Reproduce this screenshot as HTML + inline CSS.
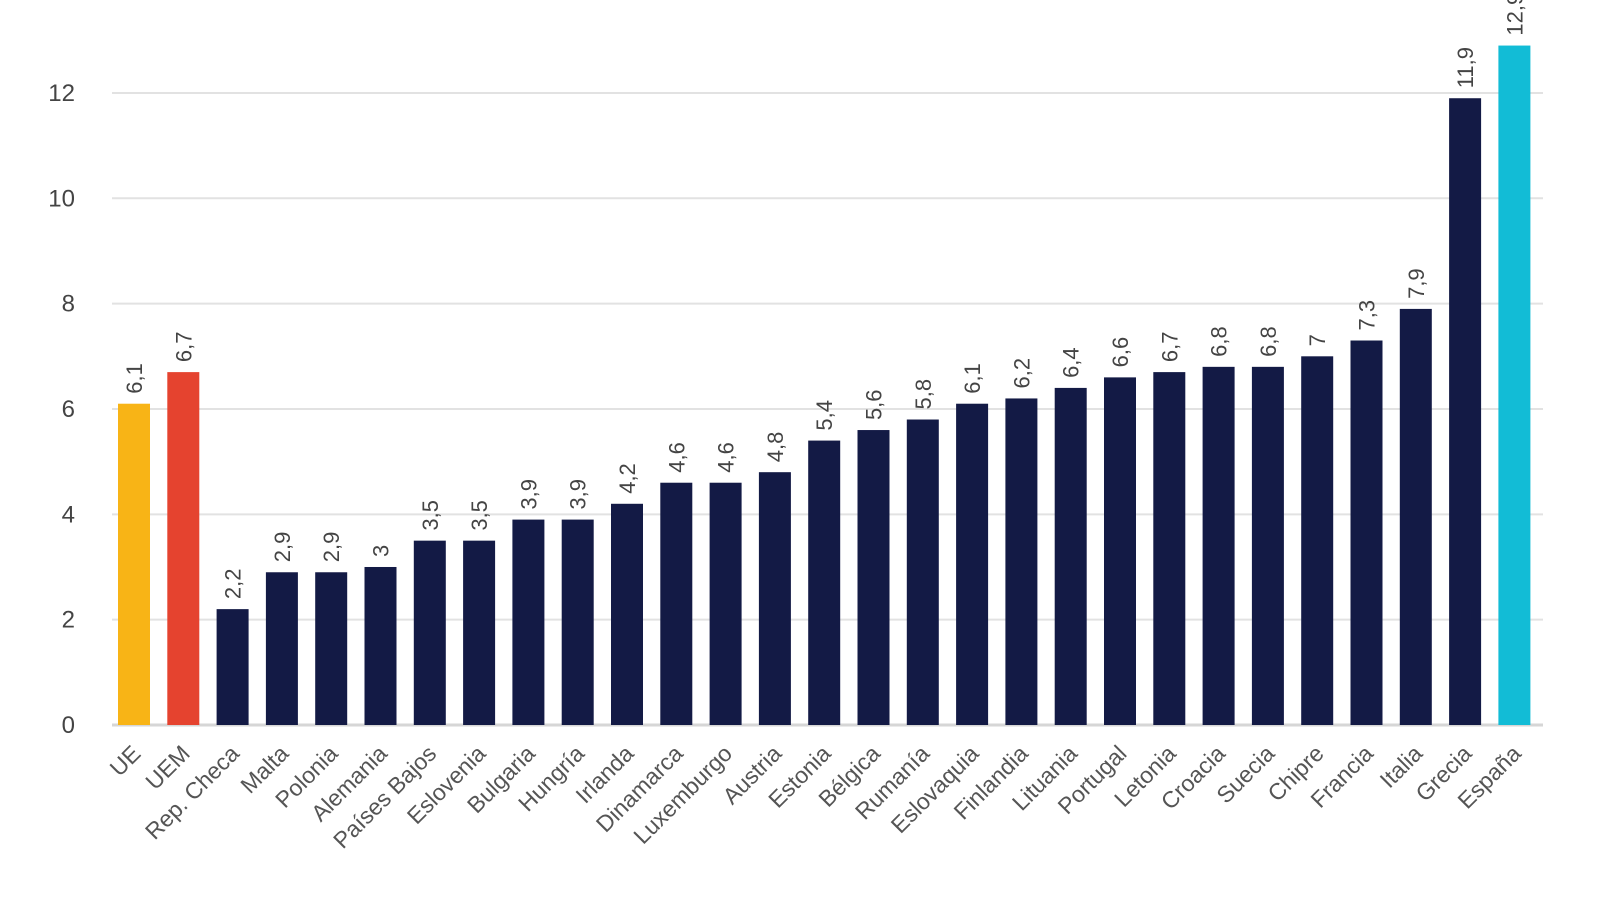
<!DOCTYPE html>
<html><head><meta charset="utf-8"><style>
html,body{margin:0;padding:0;background:#fff;}
svg{display:block;font-family:"Liberation Sans",Arial,sans-serif;}
</style></head><body>
<svg id="chart" width="1600" height="900" viewBox="0 0 1600 900" xmlns="http://www.w3.org/2000/svg"></svg>
<script>
const categories=["UE","UEM","Rep. Checa","Malta","Polonia","Alemania","Países Bajos","Eslovenia","Bulgaria","Hungría","Irlanda","Dinamarca","Luxemburgo","Austria","Estonia","Bélgica","Rumanía","Eslovaquia","Finlandia","Lituania","Portugal","Letonia","Croacia","Suecia","Chipre","Francia","Italia","Grecia","España"];
const values=[6.1,6.7,2.2,2.9,2.9,3,3.5,3.5,3.9,3.9,4.2,4.6,4.6,4.8,5.4,5.6,5.8,6.1,6.2,6.4,6.6,6.7,6.8,6.8,7,7.3,7.9,11.9,12.9];
const valueLabels=["6,1","6,7","2,2","2,9","2,9","3","3,5","3,5","3,9","3,9","4,2","4,6","4,6","4,8","5,4","5,6","5,8","6,1","6,2","6,4","6,6","6,7","6,8","6,8","7","7,3","7,9","11,9","12,9"];
const yTicks=[0,2,4,6,8,10,12,14];
const svg=document.getElementById('chart');
const NS='http://www.w3.org/2000/svg';
const y0=725, pu=52.67, x0=118, step=49.3, bw=32;
function y(v){return y0-v*pu;}
function xc(i){return x0+bw/2+i*step;}
function mk(t,a){const e=document.createElementNS(NS,t);for(const k in a)e.setAttribute(k,a[k]);svg.appendChild(e);return e;}
yTicks.forEach(t=>{
  if(t>0){const g=mk('line',{x1:112,x2:1543,y1:y(t),y2:y(t),stroke:'#e2e2e2','stroke-width':2});
  
  }
  const l=mk('text',{x:75,y:y(t)+8,'text-anchor':'end','font-size':24,fill:'#444'});
  
  
  l.textContent=t;
});
const ax=mk('line',{x1:112,x2:1543,y1:y0,y2:y0,stroke:'#d6d6d6','stroke-width':3});


values.forEach((v,i)=>{
  const col=i===0?'#f8b416':i===1?'#e5432f':i===values.length-1?'#12bcd6':'#131a45';
  const r=mk('rect',{x:xc(i)-bw/2,y:y(v),width:bw,height:y0-y(v),fill:col});
  
  
  const vx=xc(i)+8, vy=y(v)-10;
  const t=mk('text',{x:vx,y:vy,transform:`rotate(-90 ${vx} ${vy})`,'font-size':22,fill:'#444'});
  
  
  t.textContent=valueLabels[i];
  const cx=xc(i)+8, cy=y0+30;
  const c=mk('text',{x:cx,y:cy,transform:`rotate(-45 ${cx} ${cy})`,'text-anchor':'end','font-size':23,fill:'#555'});
  
  
  c.textContent=categories[i];
});
</script>
</body></html>
